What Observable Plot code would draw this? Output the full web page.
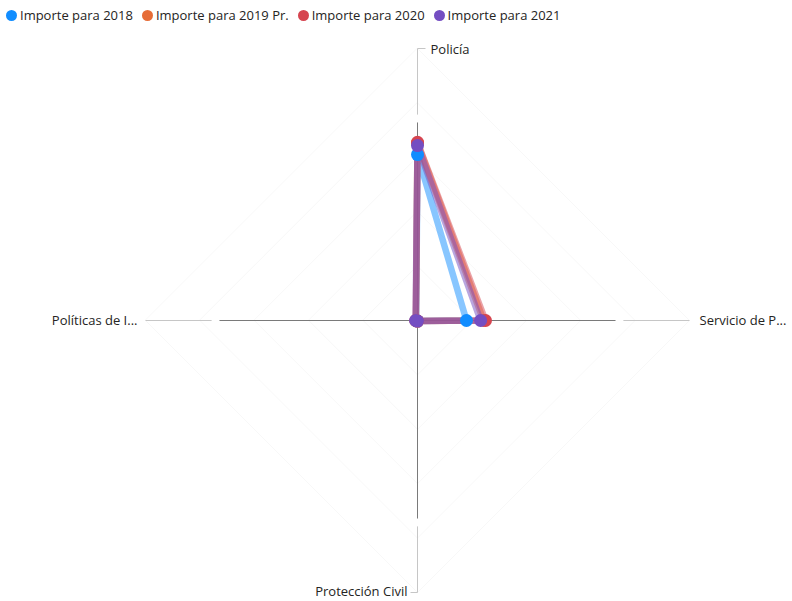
<!DOCTYPE html>
<html>
<head>
<meta charset="utf-8">
<script src="https://cdn.jsdelivr.net/npm/d3@7"></script>
<script src="https://cdn.jsdelivr.net/npm/@observablehq/plot@0.6"></script>
<style>
  html, body { margin: 0; padding: 0; background: #fff; }
  body { width: 792px; height: 601px; overflow: hidden; font-family: "Segoe UI", "Open Sans", "Noto Sans", sans-serif; }
  #legend { height: 30px; display: flex; align-items: center; padding-left: 6px; font-size: 13px; color: #252423; }
  .item { display: flex; align-items: center; margin-right: 9px; white-space: nowrap; }
  .sw { width: 11px; height: 11px; border-radius: 50%; margin-right: 3px; }
</style>
</head>
<body>
<div id="legend"></div>
<div id="chart"></div>
<script>
// ---- data ----
const axesNames = ["Policía", "Servicio de P...", "Protección Civil", "Políticas de I..."];
const seriesNames = ["Importe para 2018", "Importe para 2019 Pr.", "Importe para 2020", "Importe para 2021"];
const seriesColors = ["#118DFF", "#E66C37", "#D64550", "#744EC2"];
const v2018 = [610, 180, 2, 5];
const v2019 = [652, 243, 2, 6];
const v2020 = [655, 250, 2, 6];
const v2021 = [643, 232, 2, 7];
const gridLevels = [200, 400, 600, 800, 1000];
const axisMax = 1000;

// ---- build ----
const seriesValues = [v2018, v2019, v2020, v2021];
const angle = i => Math.PI / 2 - i * Math.PI / 2;
const pts = [];
seriesNames.forEach((s, si) => {
  seriesValues[si].forEach((v, i) => {
    pts.push({series: s, axis: axesNames[i], x: v * Math.cos(angle(i)), y: v * Math.sin(angle(i))});
  });
});
const grid = [];
gridLevels.forEach(l => axesNames.forEach((a, i) => grid.push({level: l, x: l * Math.cos(angle(i)), y: l * Math.sin(angle(i))})));
const axisDark = axesNames.map((a, i) => ({x1: 0, y1: 0, x2: 728 * Math.cos(angle(i)), y2: 728 * Math.sin(angle(i))}));
const axisLight = axesNames.map((a, i) => ({x1: 757 * Math.cos(angle(i)), y1: 757 * Math.sin(angle(i)), x2: axisMax * Math.cos(angle(i)), y2: axisMax * Math.sin(angle(i))}));
const labels = axesNames.map((a, i) => ({name: a, x: axisMax * Math.cos(angle(i)), y: axisMax * Math.sin(angle(i))}));

const k = 272 / axisMax; // px per unit
const W = 792, H = 571, cx = 417, cy = 290;

// legend
const lg = document.getElementById("legend");
seriesNames.forEach((s, i) => {
  const d = document.createElement("div"); d.className = "item";
  d.innerHTML = `<span class="sw" style="background:${seriesColors[i]}"></span><span>${s}</span>`;
  lg.appendChild(d);
});

const chart = Plot.plot({
  width: W, height: H, margin: 0,
  style: {fontFamily: '"Segoe UI", "Open Sans", "Noto Sans", sans-serif', fontSize: "13px", color: "#252423", background: "#fff"},
  x: {domain: [-cx / k, (W - cx) / k], range: [0, W], axis: null},
  y: {domain: [-(H - cy) / k, cy / k], range: [H, 0], axis: null},
  color: {domain: seriesNames, range: seriesColors},
  marks: [
    Plot.line(grid, {x: "x", y: "y", z: "level", curve: "linear-closed", stroke: "#f8f8f8", strokeWidth: 1}),
    Plot.link(axisDark, {x1: "x1", y1: "y1", x2: "x2", y2: "y2", stroke: "#7a7a7a", strokeWidth: 1}),
    Plot.link(axisLight, {x1: "x1", y1: "y1", x2: "x2", y2: "y2", stroke: "#c6c6c6", strokeWidth: 1}),
    Plot.link(labels.filter((d, i) => i === 0), {x1: "x", y1: "y", x2: d => d.x + 8 / k, y2: "y", stroke: "#c6c6c6"}),
    Plot.link(labels.filter((d, i) => i === 2), {x1: "x", y1: "y", x2: d => d.x - 7 / k, y2: "y", stroke: "#c6c6c6"}),
    Plot.line(pts, {x: "x", y: "y", z: "series", stroke: "series", curve: "linear-closed", strokeWidth: 6.5, strokeOpacity: 0.5, strokeLinejoin: "round"}),
    Plot.dot(pts, {x: "x", y: "y", fill: "series", r: 6.5}),
    Plot.text(labels.filter((d, i) => i === 0), {x: "x", y: "y", text: "name", textAnchor: "start", dx: 13, dy: 1, fill: "#252423"}),
    Plot.text(labels.filter((d, i) => i === 1), {x: "x", y: "y", text: "name", textAnchor: "start", dx: 10, fill: "#252423"}),
    Plot.text(labels.filter((d, i) => i === 2), {x: "x", y: "y", text: "name", textAnchor: "end", dx: -10, dy: -1, fill: "#252423"}),
    Plot.text(labels.filter((d, i) => i === 3), {x: "x", y: "y", text: "name", textAnchor: "end", dx: -8, fill: "#252423"})
  ]
});
document.getElementById("chart").appendChild(chart);
</script>
</body>
</html>
